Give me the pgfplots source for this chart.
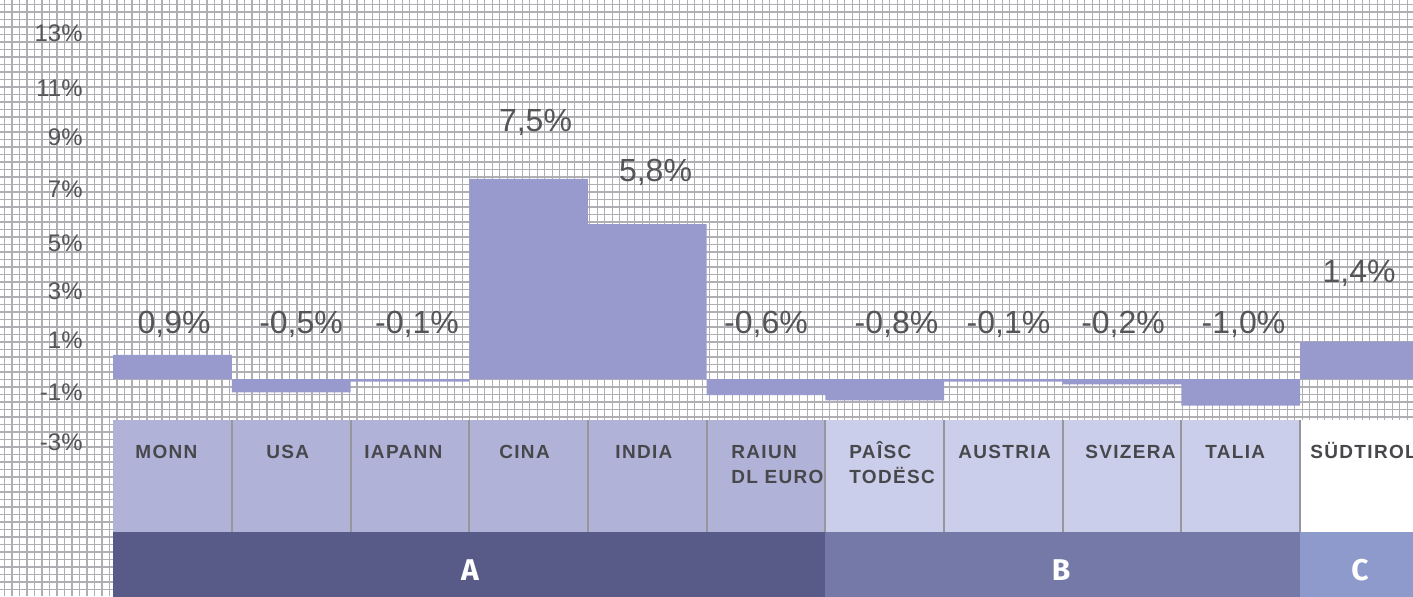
\documentclass[border=0pt]{standalone}
\usepackage{fontspec}
\setmainfont{Liberation Sans}
\newfontfamily\catfont[LetterSpace=7]{Liberation Sans}
\newfontfamily\bandfont{Fira Sans}
\usepackage{pgfplots}
\pgfplotsset{compat=1.18}

\definecolor{gridcol}{RGB}{175,175,179}
\definecolor{barcol}{RGB}{152,153,204}
\definecolor{boxA}{RGB}{176,178,216}
\definecolor{boxB}{RGB}{203,206,234}
\definecolor{bandA}{RGB}{88,90,136}
\definecolor{bandB}{RGB}{117,121,168}
\definecolor{bandC}{RGB}{142,153,204}
\definecolor{sepcol}{RGB}{150,150,156}
\definecolor{txt}{RGB}{85,85,88}
\definecolor{cattxt}{RGB}{72,72,76}

\begin{document}
\begin{tikzpicture}[
  vlab/.style={anchor=base, inner sep=0pt, text=txt, font=\fontsize{16}{16}\selectfont},
  clab/.style={anchor=base west, inner sep=0pt, text=cattxt, font=\catfont\bfseries\fontsize{9.5}{9.5}\selectfont},
  blab/.style={anchor=center, inner sep=0pt, text=white, font=\bandfont\bfseries\fontsize{15}{15}\selectfont},
]
\begin{axis}[
  scale only axis, width=706.5pt, height=298pt,
  xmin=-1.4533, xmax=10.4507, ymin=-8.127, ymax=14.195,
  axis line style={draw=none}, tick style={draw=none},
  xtick={-1.4153,-1.3521,...,10.46}, xticklabels={},
  xmajorgrids,
  ytick={12.96,10.90,9.064,7.097,5.094,3.296,1.461,-0.487,-2.360},
  yticklabels={13\%, 11\%\hspace{8pt}, 9\%\hspace{1.5pt}, 7\%\hspace{0.5pt}, 5\%\hspace{-1pt}, 3\%, 1\%, -1\%, -3\%\hspace{-3.5pt}},
  minor ytick={-7.884,-7.6031,...,14.1},
  yminorgrids, ymajorgrids=false,
  major grid style={gridcol, line width=0.6pt},
  minor grid style={gridcol, line width=0.6pt},
  yticklabel style={anchor=east, inner sep=0pt, xshift=41.5pt,
    font=\fontsize{12}{12}\selectfont, text=txt},
]
% category boxes and group bands
\fill[boxA] (axis cs:-0.5,-1.5356) rectangle (axis cs:5.5,-5.7303);
\fill[boxB] (axis cs:5.5,-1.5356) rectangle (axis cs:9.5,-5.7303);
\fill[white] (axis cs:9.5,-1.5356) rectangle (axis cs:10.6,-5.7303);
\fill[bandA] (axis cs:-0.5,-5.7303) rectangle (axis cs:5.5,-8.3);
\fill[bandB] (axis cs:5.5,-5.7303) rectangle (axis cs:9.5,-8.3);
\fill[bandC] (axis cs:9.5,-5.7303) rectangle (axis cs:10.6,-8.3);
\pgfplotsinvokeforeach{0.5,1.5,...,9.5}{
  \draw[sepcol, line width=1pt] (axis cs:#1,-1.5356) -- (axis cs:#1,-5.7303);
}

% bars
\addplot[ybar, bar width=1, bar shift=0pt, fill=barcol, draw=none] coordinates {
  (0,0.9) (1,-0.5) (2,-0.1) (3,7.5) (4,5.8) (5,-0.6)
  (6,-0.8) (7,-0.1) (8,-0.2) (9,-1.0) (10,1.4)
};

% value labels
\node[vlab] at (axis cs:0.013,1.723) {0,9\%};
\node[vlab] at (axis cs:1.083,1.723) {-0,5\%};
\node[vlab] at (axis cs:2.060,1.723) {-0,1\%};
\node[vlab] at (axis cs:3.058,9.288) {7,5\%};
\node[vlab] at (axis cs:4.069,7.416) {5,8\%};
\node[vlab] at (axis cs:5.000,1.723) {-0,6\%};
\node[vlab] at (axis cs:6.099,1.723) {-0,8\%};
\node[vlab] at (axis cs:7.043,1.723) {-0,1\%};
\node[vlab] at (axis cs:8.008,1.723) {-0,2\%};
\node[vlab] at (axis cs:9.023,1.723) {-1,0\%};
\node[vlab] at (axis cs:9.996,3.596) {1,4\%};

% category names
\node[clab] at (axis cs:-0.316,-2.959) {MONN};
\node[clab] at (axis cs:0.788,-2.959) {USA};
\node[clab] at (axis cs:1.613,-2.959) {IAPANN};
\node[clab] at (axis cs:2.750,-2.959) {CINA};
\node[clab] at (axis cs:3.728,-2.959) {INDIA};
\node[clab] at (axis cs:4.705,-2.959) {RAIUN};
\node[clab] at (axis cs:4.705,-3.895) {DL EURO};
\node[clab] at (axis cs:5.699,-2.959) {PAÎSC};
\node[clab] at (axis cs:5.699,-3.895) {TODËSC};
\node[clab] at (axis cs:6.617,-2.959) {AUSTRIA};
\node[clab] at (axis cs:7.687,-2.959) {SVIZERA};
\node[clab] at (axis cs:8.698,-2.959) {TALIA};
\node[clab] at (axis cs:9.583,-2.959) {SÜDTIROL};

% group letters
\node[blab] at (axis cs:2.506,-7.154) {A};
\node[blab] at (axis cs:7.486,-7.154) {B};
\node[blab] at (axis cs:10.004,-7.154) {C};
\end{axis}
\pgfresetboundingbox
\path (current axis.south west) rectangle (current axis.north east);
\end{tikzpicture}
\end{document}
